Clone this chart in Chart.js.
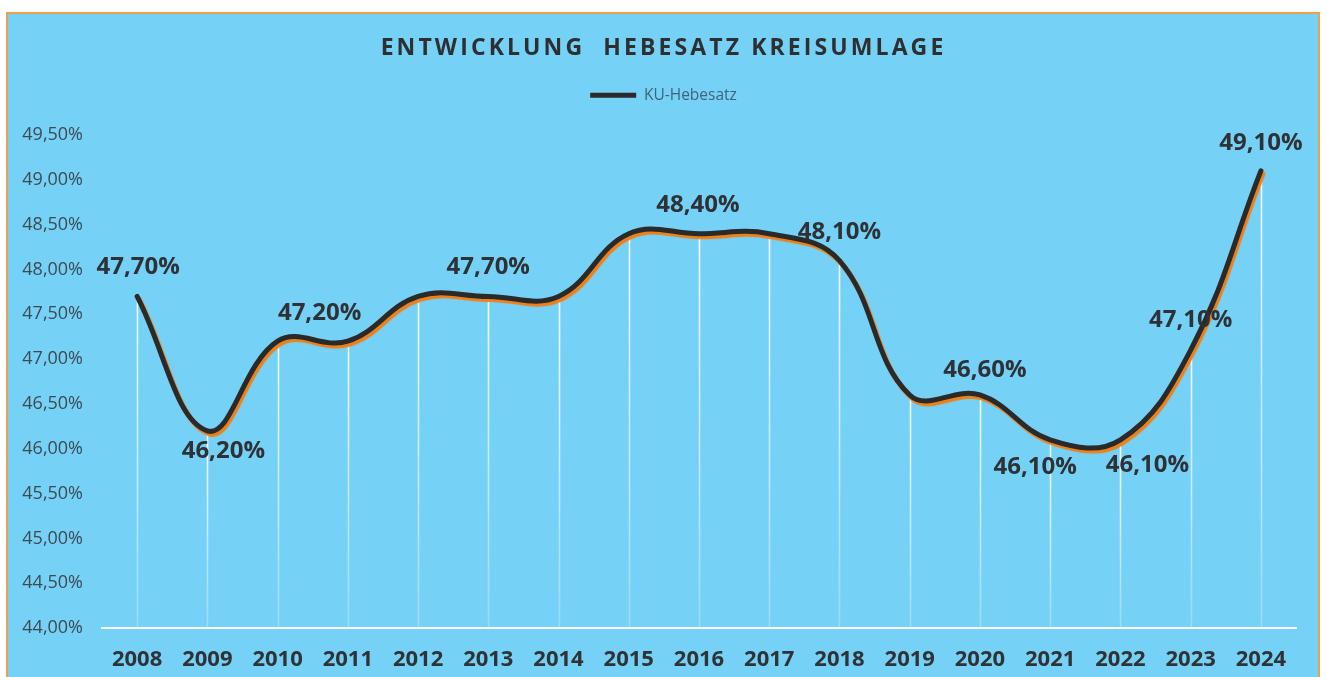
<!DOCTYPE html>
<html>
<head>
<meta charset="utf-8">
<script src="https://cdn.jsdelivr.net/npm/chart.js@4"></script>
<style>
  html, body { margin: 0; padding: 0; background: #ffffff; overflow: hidden; }
  #frame { position: absolute; left: 6px; top: 12px; width: 1310px; height: 700px;
           background: #76D1F6; border: 2px solid #E9A04F; }
  #wrap { position: absolute; left: 0; top: 0; width: 1327px; height: 677px; }
</style>
</head>
<body>
<div id="frame"></div>
<div id="wrap"><canvas id="c" width="1327" height="677"></canvas></div>
<script>
const years = ['2008','2009','2010','2011','2012','2013','2014','2015','2016','2017','2018','2019','2020','2021','2022','2023','2024'];
const hebesatz = [47.7, 46.2, 47.2, 47.2, 47.7, 47.7, 47.7, 48.4, 48.4, 48.4, 48.1, 46.6, 46.6, 46.1, 46.1, 47.1, 49.1];
const yTicksMin = 44.0;
const yTicksMax = 49.5;
const yTickStep = 0.5;
const chartTitle = 'ENTWICKLUNG  HEBESATZ KREISUMLAGE';
const seriesName = 'KU-Hebesatz';

// label placement (style only): index -> [dx, dy] offset of label centre from the point
const labelPlacement = {
  0: [1, -29], 1: [16, 20], 2: [42, -28], 5: [0, -29], 8: [-1, -29], 10: [0, -28],
  12: [5, -25], 13: [-15, 27], 14: [27, 25], 15: [0, -30], 16: [0, -28]
};

const fmt = v => v.toFixed(2).replace('.', ',') + '%';

function withSpacing(obj, spacing) {
  if (!obj || obj.__spaced) return;
  const orig = obj.draw.bind(obj);
  obj.draw = function (...args) {
    const ctx = this.ctx || this.chart.ctx;
    ctx.save();
    ctx.letterSpacing = spacing;
    orig(...args);
    ctx.restore();
  };
  obj.__spaced = true;
}

const layoutPatch = {
  id: 'layoutPatch',
  beforeUpdate(chart) {
    const lg = chart.legend;
    if (lg && !lg.__extra) {
      const f = lg.fit.bind(lg);
      lg.fit = function () { f(); this.height += 22; };
      lg.__extra = true;
    }
  },
  beforeDraw(chart) {
    withSpacing(chart.titleBlock, '3.1px');
    withSpacing(chart.scales.x, '1.5px');
  }
};

const dropLines = {
  id: 'dropLines',
  beforeDatasetsDraw(chart) {
    const ctx = chart.ctx;
    const meta = chart.getDatasetMeta(0);
    const bottom = chart.chartArea.bottom;
    ctx.save();
    meta.data.forEach(pt => {
      const g = ctx.createLinearGradient(0, pt.y, 0, bottom);
      g.addColorStop(0, 'rgba(255,255,255,0.95)');
      g.addColorStop(1, 'rgba(255,255,255,0.25)');
      ctx.strokeStyle = g;
      ctx.lineWidth = 1.6;
      ctx.beginPath();
      ctx.moveTo(Math.round(pt.x) + 0.5, pt.y);
      ctx.lineTo(Math.round(pt.x) + 0.5, bottom);
      ctx.stroke();
    });
    ctx.restore();
  }
};

const lineShadow = {
  id: 'lineShadow',
  beforeDatasetDraw(chart) {
    const ctx = chart.ctx;
    ctx.save();
    ctx.shadowColor = 'rgba(238,128,24,1)';
    ctx.shadowOffsetX = 2;
    ctx.shadowOffsetY = 3;
    ctx.shadowBlur = 1;
  },
  afterDatasetDraw(chart) {
    chart.ctx.restore();
  }
};

const dataLabels = {
  id: 'dataLabels',
  afterDatasetsDraw(chart) {
    const ctx = chart.ctx;
    const meta = chart.getDatasetMeta(0);
    const data = chart.data.datasets[0].data;
    ctx.save();
    ctx.font = 'bold 24px "Open Sans", sans-serif';
    ctx.fillStyle = '#2e3236';
    ctx.textAlign = 'center';
    ctx.textBaseline = 'middle';
    Object.keys(labelPlacement).forEach(k => {
      const i = +k;
      const pt = meta.data[i];
      const [dx, dy] = labelPlacement[k];
      ctx.fillText(fmt(data[i]), pt.x + dx, pt.y + dy);
    });
    ctx.restore();
  }
};

new Chart(document.getElementById('c'), {
  type: 'line',
  data: {
    labels: years,
    datasets: [{
      label: seriesName,
      data: hebesatz,
      borderColor: '#2a2a2a',
      backgroundColor: '#2a2a2a',
      borderWidth: 5,
      tension: 0.4,
      pointRadius: 0,
      pointHoverRadius: 0,
      pointStyle: 'line',
      fill: false,
      borderCapStyle: 'round',
      borderJoinStyle: 'round'
    }]
  },
  options: {
    responsive: false,
    animation: false,
    events: [],
    layout: { padding: { left: 14, right: 14, top: 0, bottom: 0 } },
    plugins: {
      title: {
        display: true,
        text: chartTitle,
        color: '#2d2f31',
        font: { family: '"Open Sans", sans-serif', size: 23, weight: 'bold' },
        padding: { top: 35, bottom: 17 }
      },
      legend: {
        display: true,
        position: 'top',
        labels: {
          usePointStyle: true,
          pointStyleWidth: 46,
          color: '#3d6478',
          font: { family: '"Open Sans", sans-serif', size: 15.5 },
          padding: 8
        }
      },
      tooltip: { enabled: false }
    },
    scales: {
      x: {
        type: 'category',
        offset: true,
        grid: { display: false, drawTicks: false },
        border: { display: true, color: 'rgba(255,255,255,0.95)', width: 2 },
        ticks: {
          color: '#2f3336',
          font: { family: '"Open Sans", sans-serif', size: 22, weight: 'bold' },
          padding: 19,
          maxRotation: 0,
          autoSkip: false
        },
        afterFit(scale) { scale.height = 49; }
      },
      y: {
        min: yTicksMin,
        max: yTicksMax,
        grid: { display: false, drawTicks: false },
        border: { display: false },
        ticks: {
          stepSize: yTickStep,
          color: '#3d4a52',
          font: { family: '"Open Sans", sans-serif', size: 18 },
          padding: 19,
          callback: v => fmt(v)
        },
        afterFit(scale) { scale.width = 88; }
      },
      yRight: {
        position: 'right',
        display: true,
        grid: { display: false, drawTicks: false },
        border: { display: false },
        ticks: { display: false },
        afterFit(scale) { scale.width = 17; }
      }
    }
  },
  plugins: [layoutPatch, dropLines, lineShadow, dataLabels]
});
</script>
</body>
</html>
